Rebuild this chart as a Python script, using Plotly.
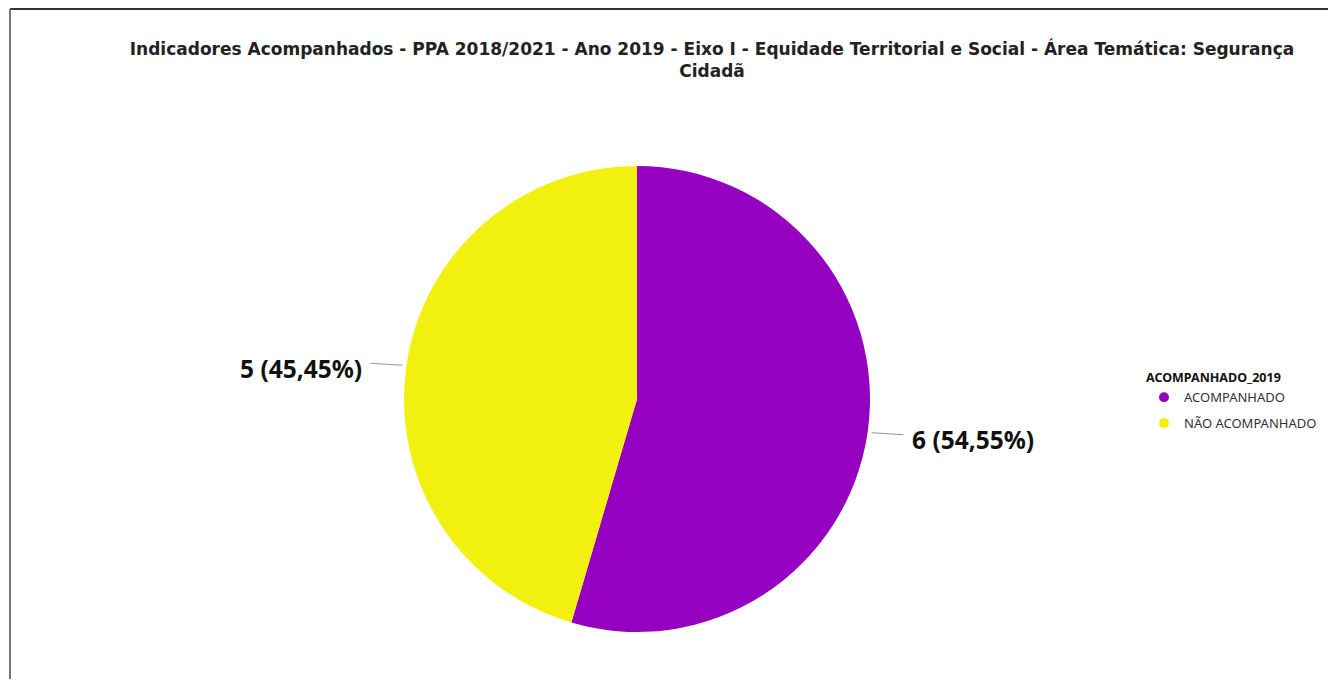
import math
import plotly.graph_objects as go

# ---- data ----
labels = ["ACOMPANHADO", "NÃO ACOMPANHADO"]
values = [6, 5]
colors = ["#9600C0", "#F2F00E"]
title_text = ("Indicadores Acompanhados - PPA 2018/2021 - Ano 2019 - Eixo I - "
              "Equidade Territorial e Social - Área Temática: Segurança<br>Cidadã")
legend_title = "ACOMPANHADO_2019"

# ---- layout geometry (screen pixels; page body has an 8px margin) ----
OFF = 8
W, H = 1320, 671
cx, cy, R = 637, 399, 233


def px(x):
    return (x - OFF) / W


def py(y):
    return 1 - (y - OFF) / H


fig = go.Figure()
fig.add_trace(go.Pie(
    labels=labels, values=values, sort=False, direction="clockwise", rotation=0,
    marker=dict(colors=colors, line=dict(width=0)),
    textinfo="none", showlegend=False,
    domain=dict(x=[px(cx - R), px(cx + R)], y=[py(cy + R), py(cy - R)]),
))

for lab, col in zip(labels, colors):
    fig.add_trace(go.Scatter(
        x=[None], y=[None], mode="markers", name=lab, legendgroup=lab,
        marker=dict(color=col, size=10, symbol="circle"),
    ))

# outside labels with leader lines, positioned from slice mid-angles
total = sum(values)
cum = 0
shapes = []
annotations = []
for v in values:
    mid = (cum + v / 2) / total * 2 * math.pi
    cum += v
    sx, sy = math.sin(mid), -math.cos(mid)
    x1, y1 = cx + (R + 4) * sx, cy + (R + 4) * sy
    sign = 1 if sx >= 0 else -1
    x2, y2 = x1 + sign * 32, y1 + sy * 14
    shapes.append(dict(type="line", xref="paper", yref="paper",
                       x0=px(x1), y0=py(y1), x1=px(x2), y1=py(y2),
                       line=dict(color="#999999", width=1)))
    pct = v / total * 100
    txt = f"{v} ({pct:.2f}%)".replace(".", ",")
    annotations.append(dict(
        x=px(x2 + sign * 6), y=py(y2 + 5), xref="paper", yref="paper",
        text=txt, showarrow=False, xanchor="left" if sign > 0 else "right",
        yanchor="middle",
        font=dict(family="Noto Sans", size=24.5, color="#111111", weight="bold"),
    ))

# frame lines
shapes.append(dict(type="line", xref="paper", yref="paper",
                   x0=px(10), y0=py(9), x1=1, y1=py(9),
                   line=dict(color="#333333", width=2)))
shapes.append(dict(type="line", xref="paper", yref="paper",
                   x0=px(10), y0=py(9), x1=px(10), y1=0,
                   line=dict(color="#777777", width=2)))

fig.update_layout(
    width=W, height=H,
    margin=dict(l=0, r=0, t=0, b=0),
    paper_bgcolor="white", plot_bgcolor="white",
    title=dict(text=title_text, x=px(712), xanchor="center",
               y=py(55), yanchor="top",
               font=dict(family="DejaVu Sans", size=17, color="#222222",
                         weight="bold")),
    xaxis=dict(visible=False), yaxis=dict(visible=False),
    legend=dict(
        title=dict(text=legend_title,
                   font=dict(family="Noto Sans", size=12.5, color="#111111",
                             weight="bold")),
        font=dict(family="Noto Sans", size=13, color="#333333"),
        x=px(1144), y=py(366), xanchor="left", yanchor="top",
        tracegroupgap=6, bgcolor="rgba(0,0,0,0)",
    ),
    shapes=shapes, annotations=annotations,
)

fig.write_html("out.html")
